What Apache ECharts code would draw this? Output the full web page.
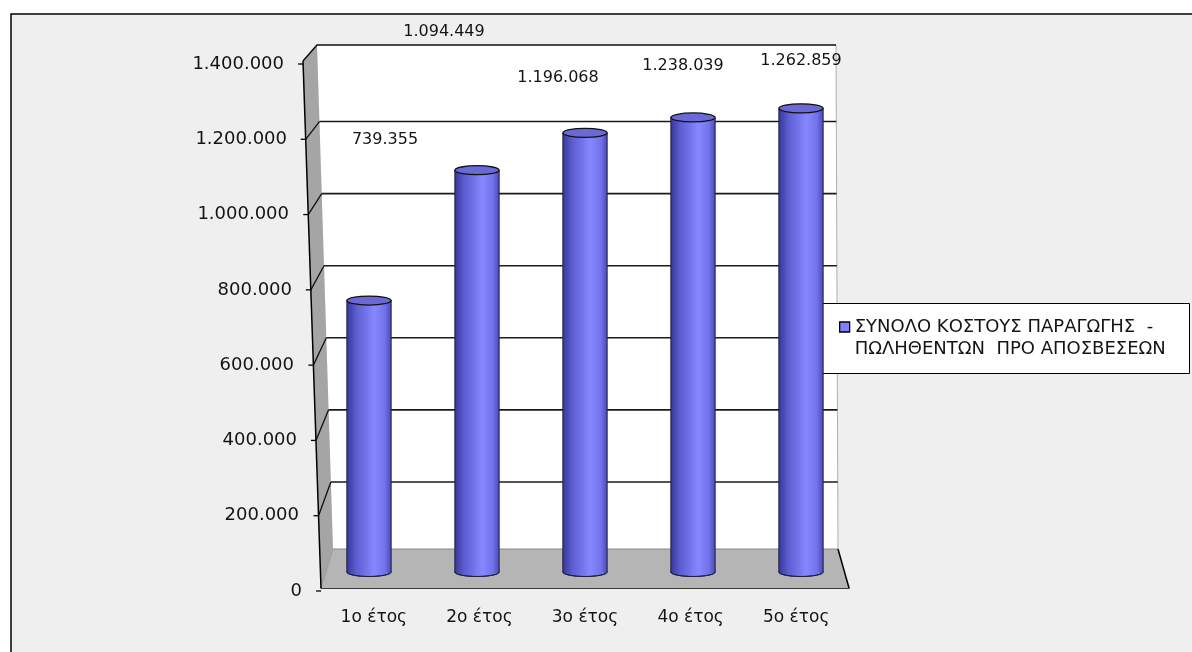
<!DOCTYPE html>
<html><head><meta charset="utf-8">
<script src="https://cdn.jsdelivr.net/npm/echarts@6/dist/echarts.min.js"></script>
<style>html,body{margin:0;padding:0;background:#fff;overflow:hidden;}#c{width:1192px;height:652px;}</style>
</head><body><div id="c"></div>
<script>
// ---------- data ----------
const categories = ['1ο έτος', '2ο έτος', '3ο έτος', '4ο έτος', '5ο έτος'];
const costValues = [739355, 1094449, 1196068, 1238039, 1262859];
const seriesName = 'ΣΥΝΟΛΟ ΚΟΣΤΟΥΣ ΠΑΡΑΓΩΓΗΣ - ΠΩΛΗΘΕΝΤΩΝ ΠΡΟ ΑΠΟΣΒΕΣΕΩΝ';
const yTickValues = [0, 200000, 400000, 600000, 800000, 1000000, 1200000, 1400000];
const Y_MIN = 0, Y_MAX = 1400000, Y_STEP = 200000;

// ---------- style / layout ----------
const FONT = "'DejaVu Sans'";
const TXT = '#141414';
const SCENE = { // pseudo-3D box corners (pixels)
  frontTop: [303, 61], frontBot: [321, 588],
  backTL: [317, 45], backTR: [836, 45], backBR: [838, 549], backBL: [333, 549],
  floorFR: [849, 588]
};
const labelShift = [[16, -161], [-33, -138], [-27, -55], [-10, -52], [0, -48]];

function fmt(v) { return String(Math.round(v)).replace(/\B(?=(\d{3})+(?!\d))/g, '.'); }

const chart = echarts.init(document.getElementById('c'), null, { renderer: 'canvas' });

const richY = {};
yTickValues.forEach(function (v) {
  richY['p' + Math.round(v / Y_STEP)] = {
    fontFamily: FONT, fontSize: 18, color: TXT,
    padding: [0, Math.round(18 * v / Y_MAX), 0, 0]
  };
});

const bodyGrad = new echarts.graphic.LinearGradient(0, 0, 1, 0, [
  { offset: 0, color: '#37379a' },
  { offset: 0.22, color: '#5e5ed2' },
  { offset: 0.62, color: '#8787ff' },
  { offset: 0.86, color: '#7272ea' },
  { offset: 1, color: '#4a4ab6' }
]);

function hiddenAxisY(g) { return { gridIndex: g, type: 'value', min: Y_MIN, max: Y_MAX, interval: Y_STEP, show: false }; }
function hiddenAxisX(g) { return { gridIndex: g, type: 'category', data: categories, show: false }; }

const option = {
  animation: false,
  backgroundColor: '#ffffff',
  grid: [
    { left: 321, top: 61, width: 528, height: 527 },     // front / category axis
    { left: 321, top: 64, width: 528, height: 527 },     // front value labels
    { left: 333, top: 49.5, width: 503, height: 504.5 }, // back wall
    { left: 315, top: 58, width: 540, height: 514 }      // cylinders
  ],
  xAxis: [
    {
      gridIndex: 0, type: 'category', data: categories,
      axisLine: { lineStyle: { color: '#000', width: 1.5 } },
      axisTick: { length: 6, lineStyle: { color: '#000', width: 1.5 } },
      axisLabel: { margin: 21, fontFamily: FONT, fontSize: 17, color: TXT }
    },
    hiddenAxisX(1), hiddenAxisX(2), hiddenAxisX(3)
  ],
  yAxis: [
    hiddenAxisY(0),
    {
      gridIndex: 1, type: 'value', min: Y_MIN, max: Y_MAX, interval: Y_STEP,
      axisLine: { show: false }, axisTick: { show: false }, splitLine: { show: false },
      axisLabel: {
        margin: 19, fontFamily: FONT, fontSize: 18, color: TXT,
        formatter: function (v) { return '{p' + Math.round(v / Y_STEP) + '|' + fmt(v) + '}'; },
        rich: richY
      }
    },
    hiddenAxisY(2), hiddenAxisY(3)
  ],
  legend: {
    left: 839, top: 294, padding: 0, itemWidth: 10, itemHeight: 10, icon: 'rect',
    selectedMode: false, z: 10,
    data: [{ name: seriesName, itemStyle: { color: '#7f7fff', borderColor: '#000', borderWidth: 1.3 } }],
    formatter: function (name) {
      const parts = name.split(' - ');
      // leading empty line keeps the marker level with the first text line
      return '\n' + parts[0] + '  -\n' + parts[1].replace(' ', '  ');
    },
    textStyle: { fontFamily: FONT, fontSize: 18, color: TXT, lineHeight: 22 }
  },
  series: [{
    type: 'custom', name: seriesName, xAxisIndex: 3, yAxisIndex: 3, z: 5,
    itemStyle: { color: '#7f7fff' },
    encode: { x: 0, y: 1 },
    data: costValues.map(function (v, i) { return [i, v]; }),
    renderItem: function (params, api) {
      const i = params.dataIndex;
      const top = api.coord([api.value(0), api.value(1)]);
      const base = api.coord([api.value(0), 0]);
      const rx = api.size([1, 0])[0] * 0.205;
      const ry = 4.5;
      const cx = top[0];
      const sh = labelShift[i];
      return {
        type: 'group',
        children: [
          { type: 'ellipse', shape: { cx: cx, cy: base[1], rx: rx, ry: ry },
            style: { fill: bodyGrad, stroke: '#1e1e3c', lineWidth: 1 } },
          { type: 'rect', shape: { x: cx - rx, y: top[1], width: rx * 2, height: base[1] - top[1] },
            style: { fill: bodyGrad } },
          { type: 'line', shape: { x1: cx - rx, y1: top[1], x2: cx - rx, y2: base[1] },
            style: { stroke: '#1e1e3c', lineWidth: 1 } },
          { type: 'line', shape: { x1: cx + rx, y1: top[1], x2: cx + rx, y2: base[1] },
            style: { stroke: '#1e1e3c', lineWidth: 1 } },
          { type: 'ellipse', shape: { cx: cx, cy: top[1], rx: rx, ry: ry },
            style: { fill: '#6a6ad6', stroke: '#111', lineWidth: 1.3 } },
          { type: 'text', x: cx + sh[0], y: top[1] + sh[1],
            style: { text: fmt(api.value(1)), fontFamily: FONT, fontSize: 16, fill: TXT,
                     align: 'center', verticalAlign: 'middle' } }
        ]
      };
    }
  }]
};
chart.setOption(option);

// ---------- pseudo-3D walls, derived from the value axes ----------
function lerpX(p, q, y) { return p[0] + (y - p[1]) * (q[0] - p[0]) / (q[1] - p[1]); }
const S = SCENE;
const g = [];
g.push({ type: 'rect', z: 0, shape: { x: 11, y: 14, width: 1300, height: 700 },
         style: { fill: '#efefef', stroke: null } });
g.push({ type: 'polyline', z: 0, shape: { points: [[11, 700], [11, 14], [1300, 14]] },
         style: { stroke: '#000', lineWidth: 1.5, fill: null } });
// back wall
g.push({ type: 'polygon', z: 1, shape: { points: [S.backTL, S.backTR, S.backBR, S.backBL] },
         style: { fill: '#ffffff', stroke: null } });
// side wall
g.push({ type: 'polygon', z: 1, shape: { points: [S.frontTop, S.backTL, S.backBL, S.frontBot] },
         style: { fill: '#a5a5a5', stroke: null } });
// floor
g.push({ type: 'polygon', z: 1, shape: { points: [S.backBL, S.backBR, S.floorFR, S.frontBot] },
         style: { fill: '#b5b5b5', stroke: null } });
g.push({ type: 'line', z: 2, shape: { x1: S.backBL[0], y1: S.backBL[1], x2: S.backBR[0], y2: S.backBR[1] },
         style: { stroke: '#8a8a8a', lineWidth: 1 } });
g.push({ type: 'line', z: 2, shape: { x1: S.backBR[0], y1: S.backBR[1], x2: S.floorFR[0], y2: S.floorFR[1] },
         style: { stroke: '#000', lineWidth: 1.5 } });
g.push({ type: 'line', z: 2, shape: { x1: S.backTR[0], y1: S.backTR[1], x2: S.backBR[0], y2: S.backBR[1] },
         style: { stroke: '#b0b0b0', lineWidth: 1 } });
g.push({ type: 'line', z: 2, shape: { x1: S.backBL[0], y1: S.backBL[1], x2: S.frontBot[0], y2: S.frontBot[1] },
         style: { stroke: '#9a9a9a', lineWidth: 1 } });
// top edges
g.push({ type: 'polyline', z: 2, shape: { points: [S.frontTop, S.backTL, S.backTR] },
         style: { stroke: '#111', lineWidth: 1.5, fill: null } });
// front axis line
g.push({ type: 'line', z: 3, shape: { x1: S.frontTop[0], y1: S.frontTop[1], x2: S.frontBot[0], y2: S.frontBot[1] },
         style: { stroke: '#000', lineWidth: 1.5 } });
// gridlines, side-wall connectors and ticks
yTickValues.forEach(function (v) {
  const yf = chart.convertToPixel({ yAxisIndex: 1 }, v);
  const xf = lerpX(S.frontTop, S.frontBot, yf);
  g.push({ type: 'line', z: 3, shape: { x1: xf - 5, y1: yf, x2: xf, y2: yf },
           style: { stroke: '#000', lineWidth: 1.3 } });
  if (v === Y_MIN || v === Y_MAX) return;
  const yb = chart.convertToPixel({ yAxisIndex: 2 }, v);
  const xbL = lerpX(S.backTL, S.backBL, yb);
  const xbR = lerpX(S.backTR, S.backBR, yb);
  g.push({ type: 'line', z: 2, shape: { x1: xf, y1: yf, x2: xbL, y2: yb },
           style: { stroke: '#111', lineWidth: 1.3 } });
  g.push({ type: 'line', z: 2, shape: { x1: xbL, y1: yb, x2: xbR, y2: yb },
           style: { stroke: '#1a1a1a', lineWidth: 1.6 } });
});
// legend frame
g.push({ type: 'rect', z: 3, shape: { x: 812.5, y: 303.5, width: 377, height: 70 },
         style: { fill: '#ffffff', stroke: '#000', lineWidth: 1 } });
chart.setOption({ graphic: { elements: g } });
</script>
</body></html>
